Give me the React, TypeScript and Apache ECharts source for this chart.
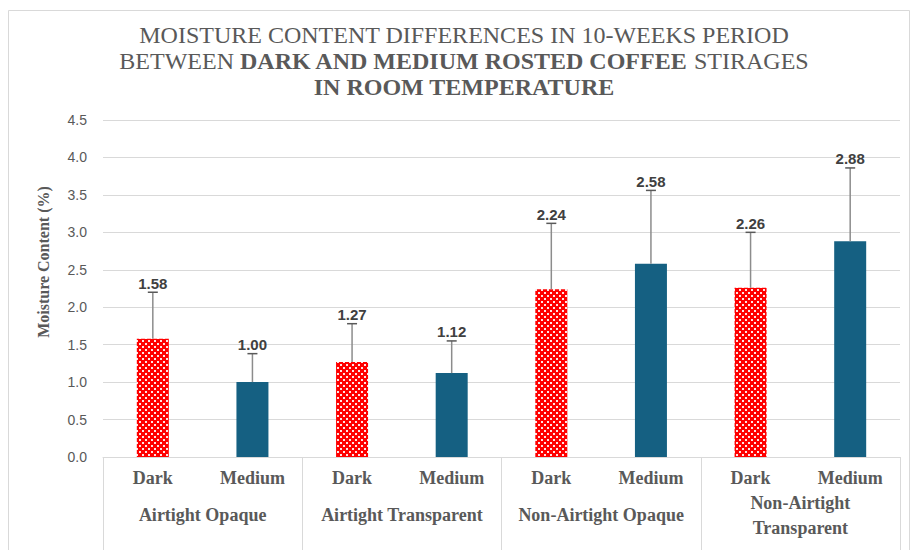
import React, { useEffect, useRef } from "react";
import * as echarts from "echarts";

const groups = ["Airtight Opaque", "Airtight Transparent", "Non-Airtight Opaque", "Non-Airtight Transparent"];
const roasts = ["Dark", "Medium"];
const darkValues = [1.58, 1.27, 2.24, 2.26];
const mediumValues = [1.0, 1.12, 2.58, 2.88];
const darkErrors = [0.62, 0.51, 0.88, 0.74];
const mediumErrors = [0.38, 0.43, 0.98, 0.98];
const yTicks = { min: 0, max: 4.5, interval: 0.5 };

const titleLine1 = "MOISTURE CONTENT DIFFERENCES IN 10-WEEKS PERIOD";
const titleLine2 = ["BETWEEN ", "DARK AND MEDIUM ROSTED COFFEE", " STIRAGES"];
const titleLine3 = "IN ROOM TEMPERATURE";

const SERIF = '"Liberation Serif", "Times New Roman", serif';
const SANS = '"Liberation Sans", Arial, sans-serif';
const TEXT = "#595959";
const GRID = "#d9d9d9";
const MEDIUM_COLOR = "#156082";

function makePattern(): HTMLCanvasElement {
  const c = document.createElement("canvas");
  c.width = 6;
  c.height = 6;
  const ctx = c.getContext("2d")!;
  ctx.fillStyle = "#ff0000";
  ctx.fillRect(0, 0, 6, 6);
  ctx.fillStyle = "#ffe4e4";
  ctx.fillRect(1, 1, 2, 2);
  ctx.fillRect(4, 4, 2, 2);
  return c;
}

export default function App() {
  const ref = useRef<HTMLDivElement>(null);
  useEffect(() => {
    if (!ref.current) return;
    const chart = echarts.init(ref.current, null, { renderer: "svg" });
    const pattern = makePattern();

    const cats: string[] = [];
    const barData: any[] = [];
    const errData: any[] = [];
    groups.forEach((g, i) => {
      [darkValues[i], mediumValues[i]].forEach((v, k) => {
        const err = k === 0 ? darkErrors[i] : mediumErrors[i];
        cats.push(roasts[k]);
        barData.push({
          value: v,
          itemStyle: {
            color: k === 0 ? { image: pattern, repeat: "repeat" } : MEDIUM_COLOR,
          },
        });
        errData.push([cats.length - 1, v, v + err]);
      });
    });

    const fontN = `24px ${SERIF}`;
    const fontB = `bold 24px ${SERIF}`;
    const mctx = document.createElement("canvas").getContext("2d")!;
    const measure = (t: string, f: string) => {
      mctx.font = f;
      return mctx.measureText(t).width;
    };
    const cx = 464;
    const w2 = [
      measure(titleLine2[0], fontN),
      measure(titleLine2[1], fontB),
      measure(titleLine2[2], fontN),
    ];
    const start2 = cx - (w2[0] + w2[1] + w2[2]) / 2;

    const titleText = (text: string, x: number, y: number, font: string, align: string) => ({
      type: "text",
      x,
      y,
      silent: true,
      style: { text, font, fill: TEXT, align, verticalAlign: "middle" },
    });

    const option: any = {
      animation: false,
      backgroundColor: "#ffffff",
      graphic: [
        {
          type: "rect",
          shape: { x: 8.5, y: 10.5, width: 901, height: 560 },
          style: { fill: "none", stroke: GRID, lineWidth: 1 },
          silent: true,
        },
        titleText(titleLine1, cx, 35, fontN, "center"),
        titleText(titleLine2[0], start2, 61, fontN, "left"),
        titleText(titleLine2[1], start2 + w2[0], 61, fontB, "left"),
        titleText(titleLine2[2], start2 + w2[0] + w2[1], 61, fontN, "left"),
        titleText(titleLine3, cx, 87, fontB, "center"),
        {
          type: "text",
          x: 43,
          y: 262,
          rotation: Math.PI / 2,
          style: {
            text: "Moisture Content (%)",
            font: `bold 16px ${SERIF}`,
            fill: TEXT,
            align: "center",
            verticalAlign: "middle",
          },
        },
      ],
      grid: { left: 103, right: 12, top: 120, bottom: 93 },
      xAxis: [
        {
          type: "category",
          data: cats,
          axisLine: { lineStyle: { color: GRID } },
          axisTick: { show: false },
          axisLabel: {
            margin: 12,
            color: TEXT,
            fontFamily: SERIF,
            fontWeight: "bold",
            fontSize: 18,
          },
        },
        {
          type: "category",
          data: groups,
          position: "bottom",
          axisLine: { show: false },
          axisTick: { show: true, length: 95, interval: 0, lineStyle: { color: GRID } },
          axisLabel: {
            margin: 58,
            interval: 0,
            color: TEXT,
            fontFamily: SERIF,
            fontWeight: "bold",
            fontSize: 18,
            lineHeight: 25,
            verticalAlign: "middle",
            formatter: (v: string) => (v.length > 22 ? v.replace(/ (?=[^ ]*$)/, "\n") : v),
          },
        },
      ],
      yAxis: {
        type: "value",
        min: yTicks.min,
        max: yTicks.max,
        interval: yTicks.interval,
        axisLine: { show: false },
        axisTick: { show: false },
        splitLine: { lineStyle: { color: GRID, width: 1 } },
        axisLabel: {
          margin: 16,
          color: TEXT,
          fontFamily: SANS,
          fontSize: 14,
          formatter: (v: number) => v.toFixed(1),
        },
      },
      series: [
        {
          type: "bar",
          data: barData,
          barWidth: 32,
          xAxisIndex: 0,
        },
        {
          type: "custom",
          xAxisIndex: 0,
          data: errData,
          z: 5,
          renderItem: (params: any, api: any) => {
            const x = api.value(0);
            const base = api.coord([x, api.value(1)]);
            const top = api.coord([x, api.value(2)]);
            const cap = 5;
            return {
              type: "group",
              children: [
                {
                  type: "line",
                  shape: { x1: base[0], y1: base[1], x2: top[0], y2: top[1] },
                  style: { stroke: "#8c8c8c", lineWidth: 1.5 },
                },
                {
                  type: "line",
                  shape: { x1: top[0] - cap, y1: top[1], x2: top[0] + cap, y2: top[1] },
                  style: { stroke: "#595959", lineWidth: 1.5 },
                },
                {
                  type: "text",
                  x: top[0],
                  y: top[1] - 9,
                  style: {
                    text: api.value(1).toFixed(2),
                    font: `bold 15px ${SANS}`,
                    fill: "#404040",
                    align: "center",
                    verticalAlign: "middle",
                  },
                },
              ],
            };
          },
        },
      ],
    };
    chart.setOption(option);
    return () => chart.dispose();
  }, []);
  return (
    <div
      ref={ref}
      style={{ position: "fixed", left: 0, top: 0, width: 912, height: 550 }}
    />
  );
}
